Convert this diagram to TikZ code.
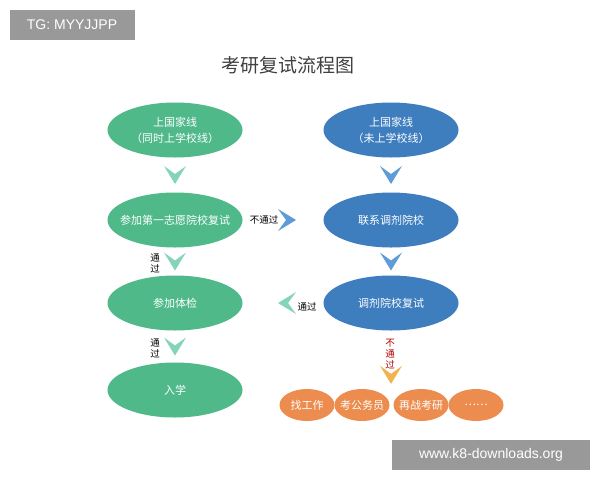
\documentclass[tikz,border=0pt]{standalone}
\usepackage{fontspec}
\setmainfont{Liberation Sans}
\newfontfamily\cjk{Noto Sans CJK SC}
\usetikzlibrary{shapes.geometric}
\definecolor{stepgreen}{HTML}{4FB98A}
\definecolor{stepblue}{HTML}{3E7EBF}
\definecolor{steporange}{HTML}{EC8D4F}
\definecolor{chevgreen}{HTML}{86D3BC}
\definecolor{chevblue}{HTML}{5D9CD6}
\definecolor{chevorange}{HTML}{F2B24E}
\tikzset{
  bigstep/.style={ellipse, minimum width=135pt, minimum height=55pt, text=white, font=\cjk\fontsize{11}{16}\selectfont, align=center, inner xsep=-12pt, inner ysep=0pt},
  smallstep/.style={ellipse, fill=steporange, minimum width=55pt, minimum height=32pt, text=white, font=\cjk\fontsize{11}{12}\selectfont, inner xsep=-6pt, inner ysep=0pt},
  note/.style={font=\cjk\fontsize{9.5}{11}\selectfont, align=center},
  chev/.pic={\fill[#1] (-11,-9) -- (0,9) -- (11,-9) -- (0,-1) -- cycle;}
}
\begin{document}
\begin{tikzpicture}[x=1pt,y=-1pt]
	\useasboundingbox (0,0) rectangle (600,480);
	\fill[white] (0,0) rectangle (600,480);
	% watermarks
	\node[fill=black!40, text=white, font=\fontsize{14}{16}\selectfont, minimum width=125pt, minimum height=30pt, inner sep=0pt] (tg) at (72,25) {TG: MYYJJPP};
	\node[fill=black!40, text=white, font=\fontsize{14}{16}\selectfont, minimum width=198pt, minimum height=30pt, inner sep=0pt] (www) at (491,455) {www.k8-downloads.org};
	% title
	\node[font=\cjk\fontsize{19}{22}\selectfont, text=black!75] (title) at (288,65) {考研复试流程图};
	% left column
	\node[bigstep, fill=stepgreen] (line1) at (175,130) {上国家线\\（同时上学校线）};
	\node[bigstep, fill=stepgreen] (retest1) at (175,220) {参加第一志愿院校复试};
	\node[bigstep, fill=stepgreen] (exam) at (175,303) {参加体检};
	\node[bigstep, fill=stepgreen] (enter) at (175,390) {入学};
	% right column
	\node[bigstep, fill=stepblue] (line2) at (391,130) {上国家线\\（未上学校线）};
	\node[bigstep, fill=stepblue] (contact) at (391,220) {联系调剂院校};
	\node[bigstep, fill=stepblue] (retest2) at (391,303) {调剂院校复试};
	% other options
	\node[smallstep] (job) at (307,405) {找工作};
	\node[smallstep] (civil) at (362,405) {考公务员};
	\node[smallstep] (again) at (421,405) {再战考研};
	\node[smallstep] (more) at (476,405) {……};
	% chevrons
	\path (line1) -- (retest1) pic[pos=.5] {chev=chevgreen};
	\path (retest1) -- (exam) pic[pos=.5] {chev=chevgreen};
	\path (exam) -- (enter) pic[pos=.5] {chev=chevgreen};
	\path (line2) -- (contact) pic[pos=.5] {chev=chevblue};
	\path (contact) -- (retest2) pic[pos=.5] {chev=chevblue};
	\path (retest1) -- (contact) pic[pos=.55, rotate=90] {chev=chevblue};
	\path (retest2) -- (exam) pic[pos=.45, rotate=-90] {chev=chevgreen};
	\path (retest2) -- (civil.north -| retest2) pic[pos=.76] {chev=chevorange};
	% labels
	\node[note] (fail1) at (264,220) {不通过};
	\node[note] (pass1) at (307,307) {通过};
	\node[note] (pass2) at (155,263) {通\\过};
	\node[note] (pass3) at (155,348) {通\\过};
	\node[note, text=red!70!black] (fail2) at (390,354) {不\\通\\过};
\end{tikzpicture}
\end{document}
